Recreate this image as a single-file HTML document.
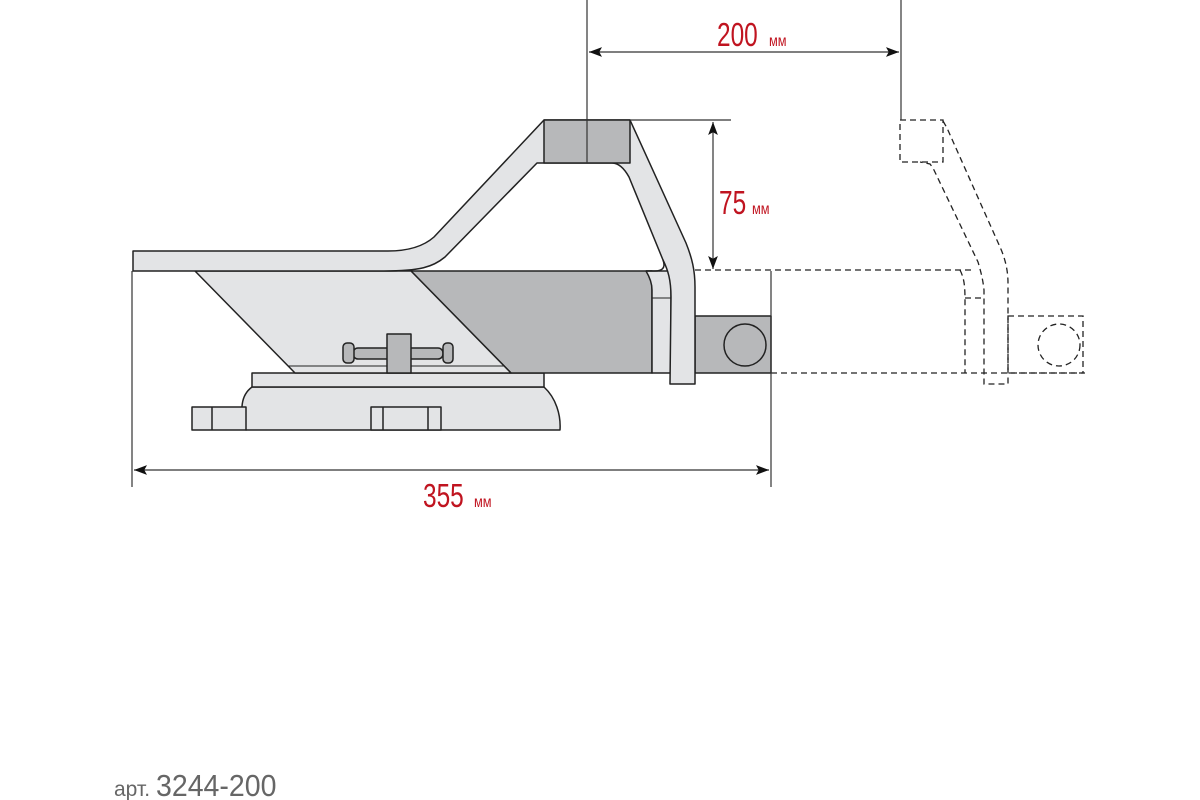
<!DOCTYPE html>
<html><head><meta charset="utf-8"><style>
html,body{margin:0;padding:0;background:#fff;}
svg{display:block;}
.r{fill:#c01420;font-family:"Liberation Sans",sans-serif;}
</style></head><body>
<svg width="1200" height="800" viewBox="0 0 1200 800" xmlns="http://www.w3.org/2000/svg">
<defs>
<marker id="a" viewBox="0 0 12 10" refX="12" refY="5" markerWidth="13" markerHeight="11" orient="auto-start-reverse" markerUnits="userSpaceOnUse"><path d="M0,0.5 L12,5 L0,9.5 L2.5,5 z" fill="#111"/></marker>
</defs>
<g stroke="#222" stroke-width="1.5" stroke-linejoin="round">
<path d="M246,430 C239,410 241,395 252,387 L544,387 C556,398 561,415 560,430 Z" fill="#e3e4e6"/>
<rect x="192" y="407" width="54" height="23" fill="#e3e4e6"/>
<line x1="212" y1="407" x2="212" y2="430"/>
<rect x="371" y="407" width="70" height="23" fill="#e3e4e6"/>
<line x1="383" y1="407" x2="383" y2="430"/><line x1="428" y1="407" x2="428" y2="430"/>
<rect x="252" y="373" width="292" height="14" fill="#e3e4e6"/>
<path d="M411,271 L652,271 L652,373 L511,373 Z" fill="#b7b8ba"/>
<path d="M195,271 L411,271 L511,373 L295,373 Z" fill="#e3e4e6"/>
<line x1="288" y1="366" x2="505" y2="366" stroke-width="1"/>
<path d="M652,373 L652,290 C652,282 649,276 646,271 L671,271 L671,373 Z" fill="#e3e4e6"/>
<line x1="652" y1="298" x2="671" y2="298" stroke-width="1"/>
<rect x="695" y="316" width="76" height="57" fill="#b7b8ba"/>
<circle cx="745" cy="345" r="21" fill="#b7b8ba"/>
<path d="M133,251 L388,251 C410,251 425,245 434,237 L544,120 L630,120 L686,243 C692,258 695,270 695,287 L695,384 L670,384 L671,297 C671,280 668,270 663,260 L629,177 C624,168 618,163 612,163 L537,163 L445,257 C433,267 420,271 384,271 L133,271 Z" fill="#e3e4e6"/>
<path d="M663,260 C666,268 662,271 655,271 L646,271" fill="none"/>
<rect x="544" y="120" width="86" height="43" fill="#b7b8ba"/>
<rect x="353" y="348" width="90" height="11" rx="5" fill="#b7b8ba"/>
<rect x="343" y="343" width="11" height="20" rx="4" fill="#b7b8ba"/>
<rect x="443" y="343" width="10" height="20" rx="4" fill="#b7b8ba"/>
<rect x="387" y="334" width="24" height="39" fill="#b7b8ba"/>
</g>
<g fill="none" stroke="#222" stroke-width="1.3" stroke-dasharray="6,4">
<line x1="695" y1="270" x2="975" y2="270"/>
<line x1="771" y1="373" x2="1085" y2="373"/>
<rect x="900" y="120" width="43" height="42"/>
<path d="M943,121 L947,128 L1000,247 C1005,258 1008,270 1008,283 L1008,384 L984,384 L984,290 C983,280 981,272 978,262 L933,168 L930,164 L920,162"/>
<path d="M960,270 C964,278 965,285 965,300 L965,373"/>
<line x1="965" y1="298" x2="984" y2="298"/>
<rect x="1008" y="316" width="75" height="57"/>
<circle cx="1059" cy="345" r="21"/>
</g>
<g stroke="#333" stroke-width="1.2" fill="none">
<line x1="587" y1="0" x2="587" y2="163"/>
<line x1="901" y1="0" x2="901" y2="120"/>
<line x1="589" y1="52" x2="899" y2="52" marker-start="url(#a)" marker-end="url(#a)"/>
<line x1="630" y1="120" x2="731" y2="120"/>
<line x1="713" y1="122" x2="713" y2="269" marker-start="url(#a)" marker-end="url(#a)"/>
<line x1="132" y1="271" x2="132" y2="487"/>
<line x1="771" y1="271" x2="771" y2="487"/>
<line x1="134" y1="470" x2="769" y2="470" marker-start="url(#a)" marker-end="url(#a)"/>
</g>
<g class="r">
<text transform="translate(717,46) scale(0.74,1)" font-size="33">200</text>
<text transform="translate(769,46) scale(0.8,1)" font-size="16">мм</text>
<text transform="translate(719,214) scale(0.74,1)" font-size="33">75</text>
<text transform="translate(752,214) scale(0.8,1)" font-size="16">мм</text>
<text transform="translate(423,507) scale(0.74,1)" font-size="33">355</text>
<text transform="translate(474,507) scale(0.8,1)" font-size="16">мм</text>
</g>
<text x="114" y="796" font-family="Liberation Sans,sans-serif" fill="#666" font-size="21">арт.</text>
<text transform="translate(156,796) scale(0.92,1)" font-family="Liberation Sans,sans-serif" fill="#666" font-size="31">3244-200</text>
</svg>
</body></html>
